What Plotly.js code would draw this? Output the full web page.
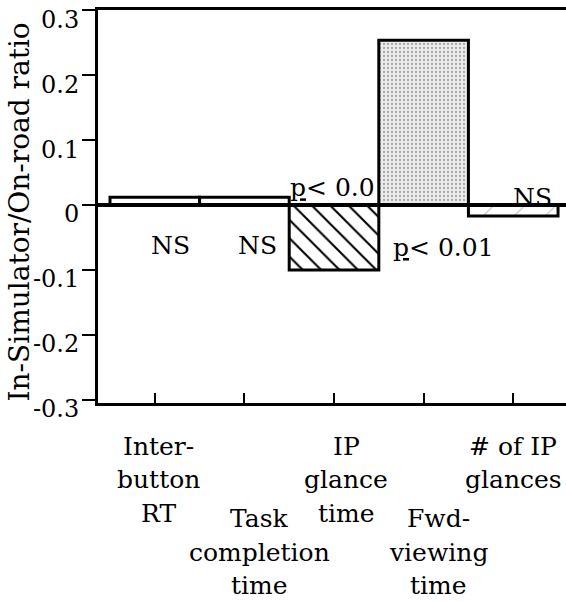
<!DOCTYPE html>
<html>
<head>
<meta charset="utf-8">
<script src="https://cdn.plot.ly/plotly-3.0.1.min.js"></script>
<style>html,body{margin:0;padding:0;background:#fff;}#chart{width:566px;height:601px;}</style>
</head>
<body>
<div id="chart"></div>
<script>
// ---- data ----
const categories = ['Inter-button RT', 'Task completion time', 'IP glance time', 'Fwd-viewing time', '# of IP glances'];
const labelLines = [['Inter-', 'button', 'RT'], ['Task', 'completion', 'time'], ['IP', 'glance', 'time'], ['Fwd-', 'viewing', 'time'], ['# of IP', 'glances']];
const ratio = [0.012, 0.012, -0.1, 0.254, -0.017];
const sigLabels = ['NS', 'NS', '<u>p</u>< 0.01', '<u>p</u>< 0.01', 'NS'];
const yTitle = 'In-Simulator/On-road ratio';
const yTickVals = [-0.3, -0.2, -0.1, 0, 0.1, 0.2, 0.3];
const yTickText = ['-0.3', '-0.2', '-0.1', '0', '0.1', '0.2', '0.3'];

// ---- layout / style ----
const FONT = 'DejaVu Serif';
const xRange = [-0.634, 4.589];
const yRange = [-0.305, 0.3005];
const idx = categories.map((c, i) => i);

// label placement (pixels / data offsets), kept apart from data
const labelXShift = [4, 15, 12, 15, 0];
const labelRowShift = [0, 1, 0, 1, 0];
const rowCenters = [[-43.3, -76.8, -110.3], [-115.5, -149, -182.5]];
const sigPos = [
  {x: 0.18, y: -0.063},
  {x: 1.15, y: -0.063},
  {x: 2.07, y: 0.023},
  {x: 3.22, y: -0.065},
  {x: 4.21, y: 0.012}
];

const annotations = [];
labelLines.forEach((lines, i) => {
  lines.forEach((ln, k) => {
    annotations.push({
      text: ln, xref: 'x', x: idx[i], xshift: labelXShift[i], xanchor: 'center',
      yref: 'paper', y: 0, yanchor: 'middle', yshift: rowCenters[labelRowShift[i]][k],
      showarrow: false, font: {family: FONT, size: 25, color: '#000'}
    });
  });
});
[0, 1, 3, 4].forEach(i => {
  annotations.push({
    text: sigLabels[i], xref: 'x', yref: 'y', x: sigPos[i].x, y: sigPos[i].y,
    xanchor: 'center', yanchor: 'middle', showarrow: false,
    font: {family: FONT, size: 25, color: '#000'}
  });
});
// y-axis title (rotated)
annotations.push({
  text: yTitle, textangle: -90, xref: 'paper', x: 0, xshift: -79, xanchor: 'center',
  yref: 'paper', y: 0.5, yshift: -6, yanchor: 'middle', showarrow: false,
  font: {family: FONT, size: 28, color: '#000'}
});

const textTrace = {
  type: 'scatter', mode: 'text', x: [sigPos[2].x], y: [sigPos[2].y],
  text: [sigLabels[2]], textposition: 'middle center',
  textfont: {family: FONT, size: 25, color: '#000'},
  hoverinfo: 'skip', showlegend: false, xaxis: 'x', yaxis: 'y'
};

const barTrace = {
  type: 'bar', x: idx, y: ratio, width: 1, xaxis: 'x2', yaxis: 'y2',
  marker: {
    color: '#ffffff',
    line: {color: '#000000', width: 3},
    pattern: {
      shape: ['', '', '\\', '.', '/'],
      fgcolor: ['#000000', '#000000', '#000000', '#a8a8a8', '#bdbdbd'],
      bgcolor: ['#ffffff', '#ffffff', '#ffffff', '#ececec', '#ffffff'],
      size: [8, 8, 13, 4, 22],
      solidity: [0.2, 0.2, 0.16, 0.25, 0.05],
      fillmode: 'replace'
    }
  },
  hoverinfo: 'skip', showlegend: false
};

const layout = {
  width: 566, height: 601,
  margin: {l: 98, r: 0, t: 10, b: 198, pad: 0},
  paper_bgcolor: '#fff', plot_bgcolor: '#fff',
  showlegend: false,
  font: {family: FONT, color: '#000'},
  xaxis: {
    range: xRange, tickvals: idx, showticklabels: false,
    ticks: 'inside', ticklen: 10, tickwidth: 2, tickcolor: '#000',
    showline: true, linewidth: 3, linecolor: '#000', mirror: true,
    showgrid: false, zeroline: false, fixedrange: true
  },
  yaxis: {
    range: yRange, tickvals: yTickVals, ticktext: yTickText,
    ticks: 'outside', ticklen: 13, tickwidth: 2, tickcolor: '#000',
    tickfont: {family: FONT, size: 24, color: '#000'},
    ticklabelshift: 9, ticklabelstandoff: -2, ticklabeloverflow: 'allow',
    showline: true, linewidth: 3, linecolor: '#000',
    showgrid: false, zeroline: false, fixedrange: true
  },
  xaxis2: {range: xRange, overlaying: 'x', anchor: 'y2', visible: false, fixedrange: true},
  yaxis2: {range: yRange, overlaying: 'y', anchor: 'x2', visible: false, fixedrange: true},
  shapes: [{
    type: 'line', xref: 'paper', x0: 0, x1: 1, yref: 'y', y0: 0, y1: 0,
    line: {color: '#000', width: 4}, layer: 'above'
  }],
  annotations: annotations
};

Plotly.newPlot('chart', [textTrace, barTrace], layout, {displayModeBar: false, staticPlot: true});
</script>
</body>
</html>
